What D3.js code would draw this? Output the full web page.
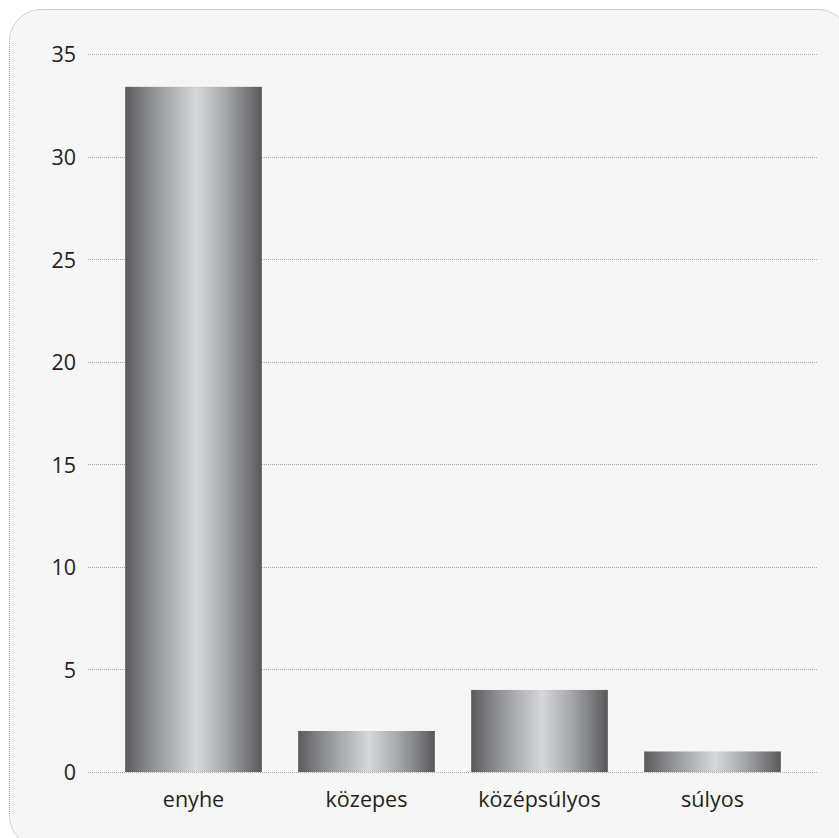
<!DOCTYPE html>
<html>
<head>
<meta charset="utf-8">
<script src="https://cdn.jsdelivr.net/npm/d3@7/dist/d3.min.js"></script>
<style>
  body { margin: 0; background: #fff; }
  svg { display: block; }
</style>
</head>
<body>
<div id="chart"></div>
<script>
var categories = ['enyhe', 'közepes', 'középsúlyos', 'súlyos'];
var values = [33.4, 2, 4, 1];
var yTicks = [0, 5, 10, 15, 20, 25, 30, 35];

var width = 839, height = 838;

var svg = d3.select('#chart')
  .append('svg')
    .attr('width', width)
    .attr('height', height);

// metallic look for the bars
var grad = svg.append('defs')
  .append('linearGradient')
    .attr('id', 'metal')
    .attr('x1', '0%').attr('x2', '100%')
    .attr('y1', '0%').attr('y2', '0%');
[[0, '#5a5a5c'], [0.12, '#7b7c7e'], [0.28, '#a2a3a6'], [0.52, '#d6d7d9'],
 [0.72, '#a9aaae'], [0.88, '#7d7e81'], [1, '#58585a']].forEach(function (s) {
  grad.append('stop').attr('offset', s[0]).attr('stop-color', s[1]);
});

// panel with dotted rounded border
svg.append('rect')
    .attr('x', 9.5).attr('y', 9.5)
    .attr('width', 840).attr('height', 838)
    .attr('rx', 32).attr('ry', 32)
    .attr('fill', '#f6f6f6')
    .attr('stroke', '#a0a0a0')
    .attr('stroke-width', 1)
    .attr('stroke-dasharray', '1,1');

var x = d3.scaleBand()
    .domain(categories)
    .range([107, 799])
    .paddingInner(0.21)
    .paddingOuter(0.105);

var y = d3.scaleLinear()
    .domain([0, 35])
    .range([772, 54]);

// gridlines
svg.append('g')
  .selectAll('line')
  .data(yTicks)
  .join('line')
    .attr('x1', 88).attr('x2', 818)
    .attr('y1', function (d) { return Math.round(y(d)) + 0.5; })
    .attr('y2', function (d) { return Math.round(y(d)) + 0.5; })
    .attr('stroke', '#a8a8a8')
    .attr('stroke-width', 1)
    .attr('stroke-dasharray', '1,1');

// y axis labels
var yAxis = d3.axisLeft(y).tickValues(yTicks).tickSize(0).tickPadding(0);
svg.append('g')
    .attr('transform', 'translate(76,1)')
    .call(yAxis)
    .call(function (g) { g.select('.domain').remove(); })
    .selectAll('text')
      .style('font-family', '"Open Sans", sans-serif')
      .style('font-size', '21.5px')
      .attr('fill', '#231f20');

// bars
svg.append('g')
  .selectAll('rect')
  .data(values)
  .join('rect')
    .attr('x', function (d, i) { return x(categories[i]); })
    .attr('y', function (d) { return y(d); })
    .attr('width', x.bandwidth())
    .attr('height', function (d) { return y(0) - y(d); })
    .attr('fill', 'url(#metal)');

// x axis labels
var xAxis = d3.axisBottom(x).tickSize(0).tickPadding(0);
svg.append('g')
    .attr('transform', 'translate(0,792)')
    .call(xAxis)
    .call(function (g) { g.select('.domain').remove(); })
    .selectAll('text')
      .style('font-family', '"Open Sans", sans-serif')
      .style('font-size', '21.5px')
      .attr('fill', '#231f20');
</script>
</body>
</html>
